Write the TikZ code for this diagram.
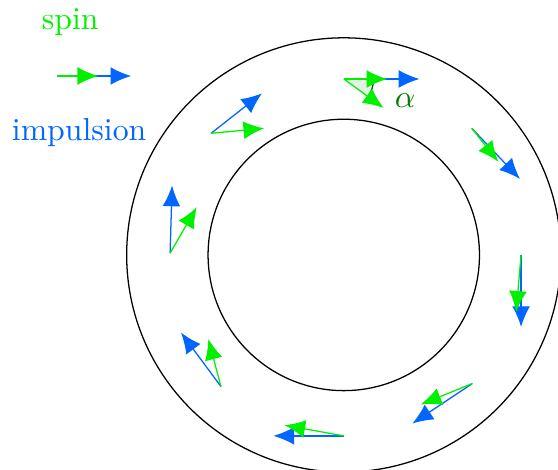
\documentclass[tikz,border=0pt]{standalone}
\usepackage{tikz}
\usetikzlibrary{arrows.meta}
\definecolor{spingreen}{RGB}{0,240,0}
\definecolor{impblue}{RGB}{0,102,255}
\definecolor{angfill}{RGB}{230,240,230}

\begin{document}
\begin{tikzpicture}[
  impvec/.style={impblue, -{Latex[length=6.5pt,width=5.6pt]}},
  spinvec/.style={spingreen, -{Latex[length=6.5pt,width=5.6pt]}}]
  \useasboundingbox (-3.80,-2.376) rectangle (2.368,2.818);
  % Ring
  \draw (0,0) circle (2.4);
  \draw (0,0) circle (1.5);
  % Legend
  \node[text=spingreen] (spinlbl) at (-3.024,2.575) {spin};
  \node[text=impblue] (implbl) at (-2.925,1.348) {impulsion};
  \coordinate (leg) at (-3.168,1.978);
  \draw[impvec] (leg) -- ++(0.818,0) coordinate (legi);
  \draw[spinvec] (leg) -- ++(0.453,0) coordinate (legs);
  % Top: spin tilted by alpha
  \coordinate (s0) at (90:1.945);
  \fill[angfill] (s0) -- ++(0:0.33) arc[start angle=0, end angle=-36, radius=0.33] -- cycle;
  \draw[green!40!black] (s0) ++(0:0.33) arc[start angle=0, end angle=-36, radius=0.33];
  \draw[impvec] (s0) -- ++(0:0.836) coordinate (i0);
  \draw[spinvec] (s0) -- ++(0:0.48) coordinate (p0);
  \draw[spinvec] (s0) -- ++(-36:0.545) coordinate (q0);
  \node[text=green!50!black] (alpha) at (0.679,1.702) {$\alpha$};
  % Other positions: start / impulsion (angle:length) / spin (angle:length)
  \foreach \pos/\ia/\il/\sa/\sl [count=\k] in {
    {44.7:1.99}/-46.4/0.773/-51.5/0.472,
    {137.5:1.99}/38.1/0.716/5.4/0.59,
    {179.4:1.92}/88.3/0.747/59.9/0.588,
    {227:1.99}/126.5/0.743/104.9/0.545,
    {270:2.0}/180/0.777/169.8/0.666,
    {315:2.01}/213.7/0.797/202.1/0.616,
    {0:1.96}/270/0.796/265/0.63} {
    \coordinate (s\k) at (\pos);
    \draw[impvec] (s\k) -- ++(\ia:\il) coordinate (i\k);
    \draw[spinvec] (s\k) -- ++(\sa:\sl) coordinate (p\k);
  }
\end{tikzpicture}
\end{document}
